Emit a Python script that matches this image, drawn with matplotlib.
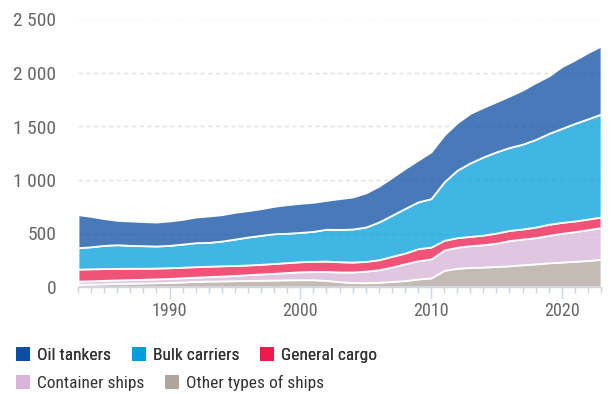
import matplotlib
matplotlib.use("Agg")
import matplotlib.pyplot as plt
from matplotlib.patches import Patch
from matplotlib.colors import to_rgba

plt.rcParams['font.family'] = ['Roboto Condensed', 'Roboto', 'DejaVu Sans']

years = list(range(1983, 2024))

oil_tankers = [309, 284, 250, 228, 228, 225, 224, 228, 231, 240, 247, 247, 250, 247, 249,
               256, 268, 272, 272, 270, 288, 299, 319, 335, 353, 374, 390, 437, 438, 443,
               463, 463, 469, 481, 506, 531, 537, 578, 593, 619, 637]
bulk_carriers = [200, 206, 217, 221, 214, 211, 206, 209, 216, 224, 223, 231, 247, 261, 271,
                 278, 274, 274, 280, 298, 302, 309, 321, 352, 384, 416, 437, 453, 546, 631,
                 687, 731, 759, 775, 793, 819, 849, 878, 912, 937, 962]
general_cargo = [112, 112, 110, 108, 106, 103, 101, 100, 99, 98, 97, 96, 93, 91, 90,
                 92, 93, 94, 95, 97, 96, 93, 91, 94, 100, 100, 113, 111, 91, 89,
                 87, 90, 94, 95, 94, 99, 103, 102, 100, 99, 99]
container_ships = [30, 31, 32, 33, 34, 34, 36, 37, 39, 40, 42, 45, 49, 54, 59,
                   63, 68, 74, 77, 83, 90, 98, 108, 117, 134, 157, 170, 177, 190, 197,
                   203, 209, 218, 236, 240, 245, 257, 269, 277, 288, 297]
other_types = [25, 27, 30, 33, 35, 38, 40, 43, 47, 52, 55, 57, 59, 61, 63,
               65, 67, 68, 68, 62, 50, 42, 40, 44, 52, 60, 75, 85, 155, 175,
               183, 186, 192, 198, 208, 216, 226, 233, 240, 248, 258]

series_names = ["Oil tankers", "Bulk carriers", "General cargo",
                "Container ships", "Other types of ships"]
series_colors = ["#0b4ea2", "#009edb", "#ed1a4b", "#d8b4d9", "#b0a59d"]

y_ticks = [0, 500, 1000, 1500, 2000, 2500]
y_tick_labels = ["0", "500", "1 000", "1 500", "2 000", "2 500"]
x_major_ticks = [1990, 2000, 2010, 2020]
x_tick_labels = ["1990", "2000", "2010", "2020"]

fig = plt.figure(figsize=(6.11, 3.94), dpi=100)
ax = fig.add_axes([78 / 611, 1 - 287 / 394, (601 - 78) / 611, (287 - 19.5) / 394])

# stack from bottom: other, container, general, bulk, oil
stack_vals = [other_types, container_ships, general_cargo, bulk_carriers, oil_tankers]
stack_cols = [to_rgba(c, 0.75) for c in series_colors[::-1]]
ax.stackplot(years, *stack_vals, colors=stack_cols, edgecolor="white",
             linewidth=1.3, zorder=2)

ax.set_xlim(years[0], years[-1])
ax.set_ylim(0, 2500)

ax.set_yticks(y_ticks)
ax.set_yticklabels(y_tick_labels)
ax.set_xticks(x_major_ticks)
ax.set_xticklabels(x_tick_labels)
ax.set_xticks(years, minor=True)

ax.yaxis.grid(True, color="#e0e0e0", linestyle=(0, (3.1, 2.4)), linewidth=1, zorder=0)
ax.set_axisbelow(True)

for s in ["left", "top", "right"]:
    ax.spines[s].set_visible(False)
ax.spines["bottom"].set_color("#ccd6eb")
ax.spines["bottom"].set_linewidth(1)
ax.spines["bottom"].set_zorder(5)

ax.tick_params(axis="y", length=0, pad=15.5, labelsize=14, labelcolor="#666666")
ax.tick_params(axis="x", which="major", length=8.5, width=1, color="#ccd6eb",
               pad=2, labelsize=13, labelcolor="#666666")
ax.tick_params(axis="x", which="minor", length=4.3, width=1, color="#ccd6eb")

handles = [Patch(facecolor=c, edgecolor="none") for c in series_colors]
leg_kw = dict(loc="center left", frameon=False, fontsize=12.5,
              handlelength=0.8, handleheight=0.85, handletextpad=0.4,
              columnspacing=1.21, borderpad=0, borderaxespad=0, labelcolor="#333333")
leg1 = fig.legend(handles[:3], series_names[:3], ncol=3,
                  bbox_to_anchor=(16 / 611, 1 - 355 / 394), **leg_kw)
leg2 = fig.legend(handles[3:], series_names[3:], ncol=2,
                  bbox_to_anchor=(16 / 611, 1 - 383 / 394), **leg_kw)
fig.add_artist(leg1)

fig.savefig("out.png", dpi=100)
